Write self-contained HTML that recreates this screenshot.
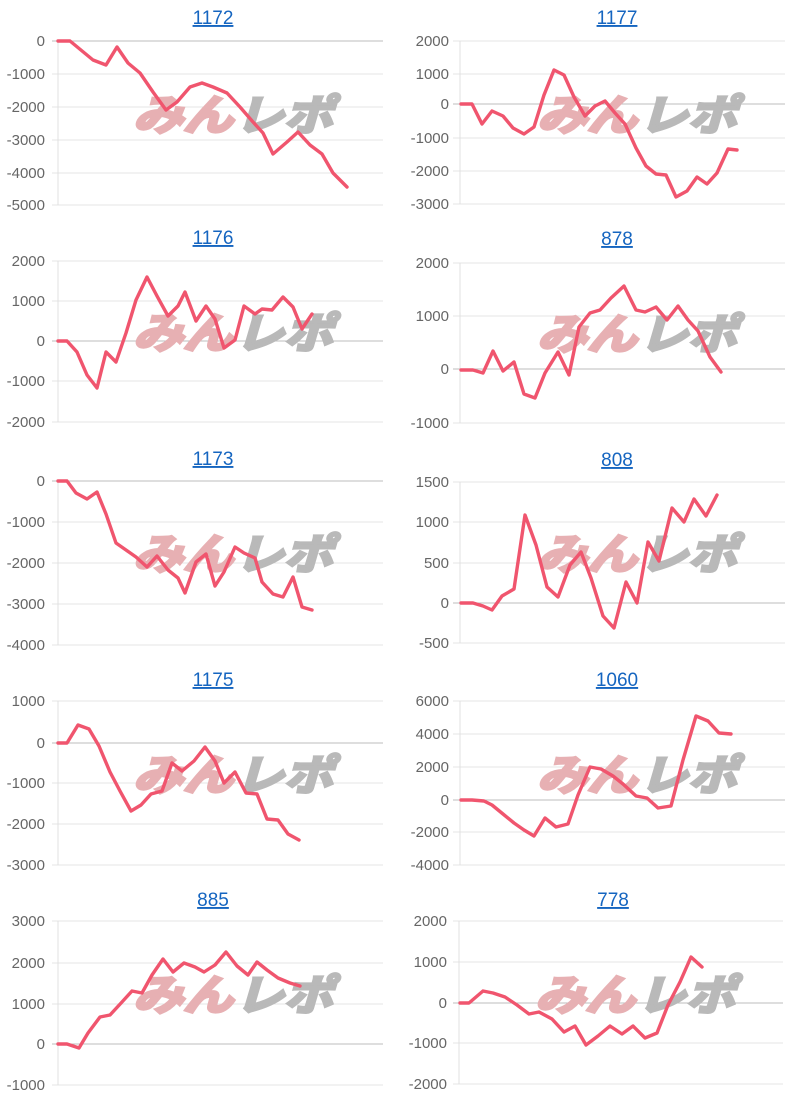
<!DOCTYPE html>
<html><head><meta charset="utf-8"><style>
html,body{margin:0;padding:0;background:#fff;width:810px;height:1100px;overflow:hidden}
svg{display:block}
.t{font:19px "Liberation Sans",sans-serif;fill:#1565c0;text-decoration:underline;text-anchor:middle}
.l{font:15px "Liberation Sans",sans-serif;fill:#666;text-anchor:end}
.g{stroke:#e4e4e4;stroke-width:1}
.z{stroke:#bdbdbd;stroke-width:1}
.ax{stroke:#e0e0e0;stroke-width:1}
.p{fill:none;stroke:#f0556e;stroke-width:3.4;stroke-linejoin:round;stroke-linecap:round}
.w1{font:italic bold 42px "Liberation Sans","Noto Sans CJK JP",sans-serif;fill:#e7b0b3;stroke:#e7b0b3;stroke-width:3}
.w2{font:italic bold 42px "Liberation Sans","Noto Sans CJK JP",sans-serif;fill:#b9b9b9;stroke:#b9b9b9;stroke-width:3}
</style></head><body>
<svg width="810" height="1100" xmlns="http://www.w3.org/2000/svg">
<defs>
<g id="wm"><text class="w1" x="0" y="35" textLength="100" lengthAdjust="spacingAndGlyphs">みん</text><text class="w2" x="102" y="35" textLength="98" lengthAdjust="spacingAndGlyphs">レポ</text></g>
</defs>

<!-- 1172 -->
<text class="t" x="213" y="24">1172</text>
<line class="z" x1="52" y1="41" x2="383" y2="41"/>
<line class="g" x1="52" y1="74" x2="383" y2="74"/>
<line class="g" x1="52" y1="107" x2="383" y2="107"/>
<line class="g" x1="52" y1="140" x2="383" y2="140"/>
<line class="g" x1="52" y1="173" x2="383" y2="173"/>
<line class="g" x1="52" y1="205" x2="383" y2="205"/>
<line class="ax" x1="58" y1="41" x2="58" y2="205"/>
<text class="l" x="45" y="46">0</text><text class="l" x="45" y="79">-1000</text><text class="l" x="45" y="112">-2000</text><text class="l" x="45" y="145">-3000</text><text class="l" x="45" y="178">-4000</text><text class="l" x="45" y="210">-5000</text>
<use href="#wm" x="133" y="95"/>
<polyline class="p" points="58,41 70,41 93,60 106,65 117,47 128,63 140,73 153,92 166,110 177,102 190,87 202,83 213,87 227,93 240,107 253,122 263,133 273,154 287,142 298,132 310,145 322,154 333,173 347,187"/>

<!-- 1177 -->
<text class="t" x="617" y="24">1177</text>
<line class="g" x1="453" y1="41" x2="785" y2="41"/>
<line class="g" x1="453" y1="74" x2="785" y2="74"/>
<line class="z" x1="453" y1="104" x2="785" y2="104"/>
<line class="g" x1="453" y1="138" x2="785" y2="138"/>
<line class="g" x1="453" y1="171" x2="785" y2="171"/>
<line class="g" x1="453" y1="204" x2="785" y2="204"/>
<line class="ax" x1="460" y1="41" x2="460" y2="204"/>
<text class="l" x="449" y="46">2000</text><text class="l" x="449" y="79">1000</text><text class="l" x="449" y="109">0</text><text class="l" x="449" y="143">-1000</text><text class="l" x="449" y="176">-2000</text><text class="l" x="449" y="209">-3000</text>
<use href="#wm" x="537" y="95"/>
<polyline class="p" points="461,104 472,104 482,124 492,111 503,116 513,128 524,134 534,127 544,95 554,70 564,75 574,97 585,116 595,106 605,101 615,113 625,124 636,148 646,166 656,174 666,175 676,197 687,191 697,177 707,184 717,173 728,149 737,150"/>

<!-- 1176 -->
<text class="t" x="213" y="244">1176</text>
<line class="g" x1="52" y1="261" x2="383" y2="261"/>
<line class="g" x1="52" y1="301" x2="383" y2="301"/>
<line class="z" x1="52" y1="341" x2="383" y2="341"/>
<line class="g" x1="52" y1="381" x2="383" y2="381"/>
<line class="g" x1="52" y1="422" x2="383" y2="422"/>
<line class="ax" x1="58" y1="261" x2="58" y2="422"/>
<text class="l" x="45" y="266">2000</text><text class="l" x="45" y="306">1000</text><text class="l" x="45" y="346">0</text><text class="l" x="45" y="386">-1000</text><text class="l" x="45" y="427">-2000</text>
<use href="#wm" x="133" y="313"/>
<polyline class="p" points="58,341 67,341 77,352 87,375 97,388 106,352 116,362 126,333 136,300 147,277 157,296 168,316 178,306 185,292 196,321 206,306 215,319 224,348 235,340 244,306 255,314 262,309 272,310 283,297 293,307 302,329 312,314"/>

<!-- 878 -->
<text class="t" x="617" y="245">878</text>
<line class="g" x1="453" y1="263" x2="785" y2="263"/>
<line class="g" x1="453" y1="316" x2="785" y2="316"/>
<line class="z" x1="453" y1="369" x2="785" y2="369"/>
<line class="g" x1="453" y1="423" x2="785" y2="423"/>
<line class="ax" x1="460" y1="263" x2="460" y2="423"/>
<text class="l" x="449" y="268">2000</text><text class="l" x="449" y="321">1000</text><text class="l" x="449" y="374">0</text><text class="l" x="449" y="428">-1000</text>
<use href="#wm" x="537" y="314"/>
<polyline class="p" points="461,370 473,370 483,373 493,351 503,371 514,362 524,394 535,398 545,373 558,352 569,375 579,327 590,313 600,310 611,298 624,286 636,310 645,312 656,307 667,320 678,306 688,320 698,331 710,357 721,372"/>

<!-- 1173 -->
<text class="t" x="213" y="465">1173</text>
<line class="z" x1="52" y1="481" x2="383" y2="481"/>
<line class="g" x1="52" y1="522" x2="383" y2="522"/>
<line class="g" x1="52" y1="563" x2="383" y2="563"/>
<line class="g" x1="52" y1="604" x2="383" y2="604"/>
<line class="g" x1="52" y1="645" x2="383" y2="645"/>
<line class="ax" x1="58" y1="481" x2="58" y2="645"/>
<text class="l" x="45" y="486">0</text><text class="l" x="45" y="527">-1000</text><text class="l" x="45" y="568">-2000</text><text class="l" x="45" y="609">-3000</text><text class="l" x="45" y="650">-4000</text>
<use href="#wm" x="133" y="534"/>
<polyline class="p" points="58,481 67,481 76,493 87,499 97,492 106,514 116,543 126,550 136,557 147,567 157,556 168,570 178,578 185,593 196,562 206,554 215,586 224,572 235,547 244,553 255,558 262,582 273,594 283,597 293,577 302,607 312,610"/>

<!-- 808 -->
<text class="t" x="617" y="466">808</text>
<line class="g" x1="453" y1="482" x2="785" y2="482"/>
<line class="g" x1="453" y1="522" x2="785" y2="522"/>
<line class="g" x1="453" y1="563" x2="785" y2="563"/>
<line class="z" x1="453" y1="603" x2="785" y2="603"/>
<line class="g" x1="453" y1="643" x2="785" y2="643"/>
<line class="ax" x1="460" y1="482" x2="460" y2="643"/>
<text class="l" x="449" y="487">1500</text><text class="l" x="449" y="527">1000</text><text class="l" x="449" y="568">500</text><text class="l" x="449" y="608">0</text><text class="l" x="449" y="648">-500</text>
<use href="#wm" x="537" y="534"/>
<polyline class="p" points="461,603 473,603 483,606 492,610 502,596 514,589 525,515 536,545 547,587 558,597 570,565 581,552 591,578 603,616 614,628 626,582 637,603 648,542 659,561 672,508 684,522 694,499 706,516 717,495"/>

<!-- 1175 -->
<text class="t" x="213" y="686">1175</text>
<line class="g" x1="52" y1="701" x2="383" y2="701"/>
<line class="z" x1="52" y1="743" x2="383" y2="743"/>
<line class="g" x1="52" y1="783" x2="383" y2="783"/>
<line class="g" x1="52" y1="824" x2="383" y2="824"/>
<line class="g" x1="52" y1="865" x2="383" y2="865"/>
<line class="ax" x1="58" y1="701" x2="58" y2="865"/>
<text class="l" x="45" y="706">1000</text><text class="l" x="45" y="748">0</text><text class="l" x="45" y="788">-1000</text><text class="l" x="45" y="829">-2000</text><text class="l" x="45" y="870">-3000</text>
<use href="#wm" x="133" y="755"/>
<polyline class="p" points="58,743 67,743 78,725 89,729 99,746 110,772 120,791 131,811 141,805 151,794 162,791 172,763 182,771 194,761 205,747 215,761 224,783 235,772 246,793 257,794 267,819 278,820 288,834 299,840"/>

<!-- 1060 -->
<text class="t" x="617" y="686">1060</text>
<line class="g" x1="453" y1="701" x2="785" y2="701"/>
<line class="g" x1="453" y1="734" x2="785" y2="734"/>
<line class="g" x1="453" y1="767" x2="785" y2="767"/>
<line class="z" x1="453" y1="800" x2="785" y2="800"/>
<line class="g" x1="453" y1="832" x2="785" y2="832"/>
<line class="g" x1="453" y1="865" x2="785" y2="865"/>
<line class="ax" x1="460" y1="701" x2="460" y2="865"/>
<text class="l" x="449" y="706">6000</text><text class="l" x="449" y="739">4000</text><text class="l" x="449" y="772">2000</text><text class="l" x="449" y="805">0</text><text class="l" x="449" y="837">-2000</text><text class="l" x="449" y="870">-4000</text>
<use href="#wm" x="537" y="755"/>
<polyline class="p" points="461,800 472,800 484,801 492,805 503,814 514,823 524,830 534,836 545,818 556,827 568,824 578,795 590,767 601,769 613,776 623,784 636,796 647,798 658,808 671,806 683,760 696,716 708,721 719,733 731,734"/>

<!-- 885 -->
<text class="t" x="213" y="906">885</text>
<line class="g" x1="52" y1="921" x2="383" y2="921"/>
<line class="g" x1="52" y1="963" x2="383" y2="963"/>
<line class="g" x1="52" y1="1004" x2="383" y2="1004"/>
<line class="z" x1="52" y1="1044" x2="383" y2="1044"/>
<line class="g" x1="52" y1="1085" x2="383" y2="1085"/>
<line class="ax" x1="58" y1="921" x2="58" y2="1085"/>
<text class="l" x="45" y="926">3000</text><text class="l" x="45" y="968">2000</text><text class="l" x="45" y="1009">1000</text><text class="l" x="45" y="1049">0</text><text class="l" x="45" y="1090">-1000</text>
<use href="#wm" x="133" y="975"/>
<polyline class="p" points="58,1044 67,1044 79,1048 88,1033 100,1017 110,1015 122,1002 132,991 142,993 152,975 163,959 173,972 184,963 195,967 204,972 215,965 226,952 237,966 248,975 257,962 267,970 278,978 290,983 300,986"/>

<!-- 778 -->
<text class="t" x="613" y="906">778</text>
<line class="g" x1="453" y1="921" x2="783" y2="921"/>
<line class="g" x1="453" y1="962" x2="783" y2="962"/>
<line class="z" x1="453" y1="1003" x2="783" y2="1003"/>
<line class="g" x1="453" y1="1043" x2="783" y2="1043"/>
<line class="g" x1="453" y1="1084" x2="783" y2="1084"/>
<line class="ax" x1="459" y1="921" x2="459" y2="1084"/>
<text class="l" x="447" y="926">2000</text><text class="l" x="447" y="967">1000</text><text class="l" x="447" y="1008">0</text><text class="l" x="447" y="1048">-1000</text><text class="l" x="447" y="1089">-2000</text>
<use href="#wm" x="535" y="975"/>
<polyline class="p" points="460,1003 469,1003 483,991 493,993 505,997 517,1005 529,1014 539,1012 552,1019 564,1032 575,1026 586,1045 598,1036 610,1026 622,1034 633,1026 645,1038 657,1033 668,1005 680,982 691,957 702,967"/>
</svg>
</body></html>
